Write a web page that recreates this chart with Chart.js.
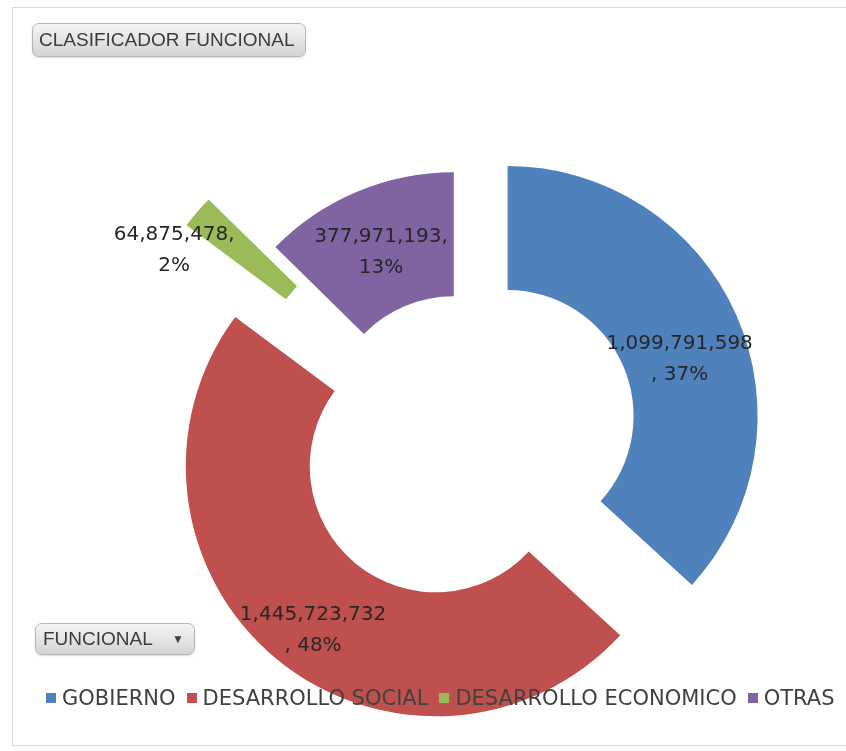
<!DOCTYPE html>
<html>
<head>
<meta charset="utf-8">
<script src="https://cdn.jsdelivr.net/npm/chart.js@4.4.0/dist/chart.umd.min.js"></script>
<style>
  html, body { margin: 0; padding: 0; background: #fff; }
  #wrap { position: relative; width: 846px; height: 751px; overflow: hidden; }
  #frame { position: absolute; left: 12px; top: 7px; right: -4px; bottom: 5px; border: 1px solid #d9d9d9; }
  #chartBox { position: absolute; left: 0; top: 0; width: 846px; height: 751px; }
  .field-btn {
    position: absolute; box-sizing: border-box; border: 1px solid #b5b5b5; border-radius: 7px;
    background: linear-gradient(#f5f5f5, #d4d4d4); box-shadow: 0 1px 2px rgba(0,0,0,0.15);
    font-family: "Liberation Sans", Arial, sans-serif; font-size: 19px; color: #3c3c3c;
    white-space: nowrap;
  }
  #titleBtn { left: 32px; top: 23px; width: 274px; height: 34px; line-height: 32px; padding-left: 6px; }
  #fieldBtn { left: 35px; top: 623px; width: 160px; height: 32px; line-height: 30px; padding-left: 7px; }
  #fieldBtn .arrow { position: absolute; left: 136px; top: 0; font-size: 12px; color: #404040; }
  #legend {
    position: absolute; left: 46px; top: 686px; display: flex; align-items: center;
    font-family: "DejaVu Sans", sans-serif; font-size: 21px; line-height: 24px; color: #404040;
  }
  #legend .item { display: flex; align-items: center; margin-right: 11px; }
  #legend .box { width: 10px; height: 10px; margin-right: 6px; }
</style>
</head>
<body>
<div id="wrap">
  <div id="frame"></div>
  <div id="chartBox"><canvas id="donutChart"></canvas></div>
  <div class="field-btn" id="titleBtn">CLASIFICADOR FUNCIONAL</div>
  <div class="field-btn" id="fieldBtn">FUNCIONAL<span class="arrow">&#9660;</span></div>
  <div id="legend"></div>
</div>
<script>
// data
const categories = ["GOBIERNO", "DESARROLLO SOCIAL", "DESARROLLO ECONOMICO", "OTRAS"];
const montos = [1099791598, 1445723732, 64875478, 377971193];

const colores = ["#4f81bd", "#c0504d", "#9bbb59", "#8064a2"];
// how far each slice is pulled out of the ring (px)
const explode = [52, 38, 96, 16];
// small nudges for the data labels, like Excel placed them
const labelNudge = [[0, 18], [-3, 19], [-70, -3], [0, 3]];

const explodePlugin = {
    id: "explode",
    afterUpdate(chart) {
        const meta = chart.getDatasetMeta(0);
        meta.data.forEach((arc, i) => {
            const mid = (arc.startAngle + arc.endAngle) / 2;
            arc.x += Math.cos(mid) * explode[i];
            arc.y += Math.sin(mid) * explode[i];
        });
    },
};

const labelPlugin = {
    id: "sliceLabels",
    afterDatasetsDraw(chart) {
        const ctx = chart.ctx;
        const meta = chart.getDatasetMeta(0);
        const values = chart.data.datasets[0].data;
        const total = values.reduce((a, b) => a + b, 0);
        ctx.save();
        ctx.font = '20px "DejaVu Sans", sans-serif';
        ctx.fillStyle = "#262626";
        ctx.textAlign = "center";
        ctx.textBaseline = "middle";
        meta.data.forEach((arc, i) => {
            const p = arc.getCenterPoint();
            const x = p.x + labelNudge[i][0];
            const y = p.y + labelNudge[i][1];
            const num = values[i].toLocaleString("en-US");
            const pct = Math.round((values[i] / total) * 100) + "%";
            let l1, l2;
            if (num.length > 11) {
                l1 = num;
                l2 = ", " + pct;
            } else {
                l1 = num + ",";
                l2 = pct;
            }
            ctx.fillText(l1, x, y - 15);
            ctx.fillText(l2, x, y + 16);
        });
        ctx.restore();
    },
};

const htmlLegend = {
    id: "htmlLegend",
    afterUpdate(chart) {
        const box = document.getElementById("legend");
        box.innerHTML = "";
        const items = chart.options.plugins.legend.labels.generateLabels(chart);
        items.forEach((it) => {
            const el = document.createElement("div");
            el.className = "item";
            const sw = document.createElement("span");
            sw.className = "box";
            sw.style.background = it.fillStyle;
            const tx = document.createElement("span");
            tx.textContent = it.text;
            el.appendChild(sw);
            el.appendChild(tx);
            box.appendChild(el);
        });
    },
};

const ctx = document.getElementById("donutChart").getContext("2d");
new Chart(ctx, {
    type: "doughnut",
    data: {
        labels: categories,
        datasets: [
            {
                data: montos,
                backgroundColor: colores,
                borderWidth: 0,
            },
        ],
    },
    options: {
        responsive: true,
        maintainAspectRatio: false,
        animation: false,
        events: [],
        radius: 250,
        cutout: "50.4%",
        layout: { padding: { left: 74, right: 0, top: 123, bottom: 0 } },
        plugins: {
            legend: { display: false },
            tooltip: { enabled: false },
        },
    },
    plugins: [explodePlugin, labelPlugin, htmlLegend],
});
</script>
</body>
</html>
